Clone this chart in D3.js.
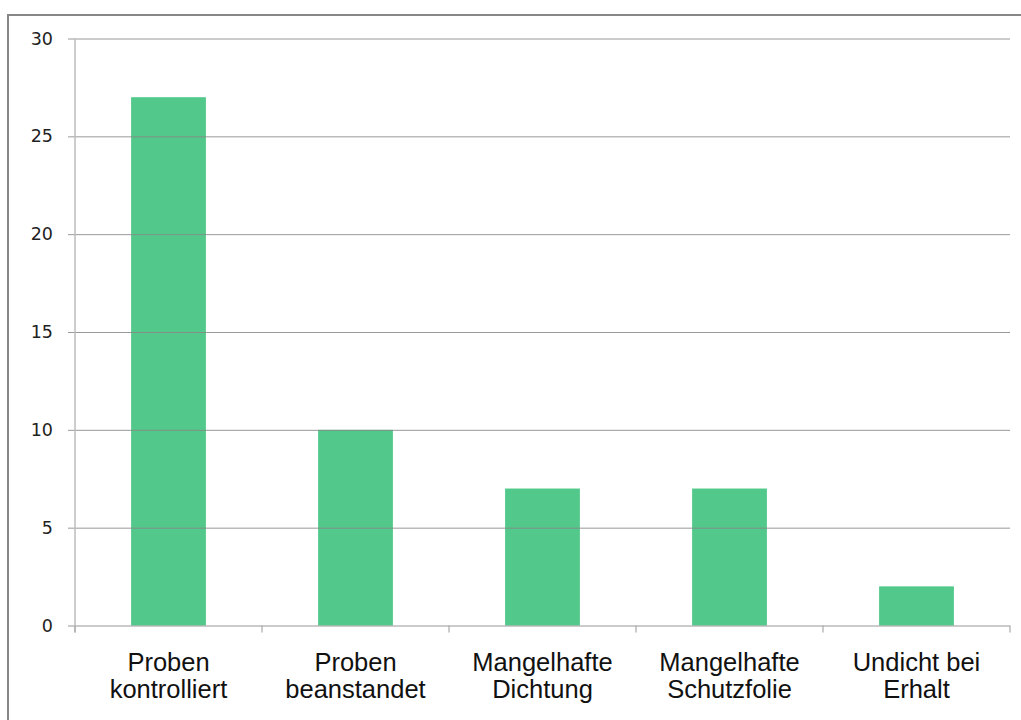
<!DOCTYPE html>
<html>
<head>
<meta charset="utf-8">
<script src="https://cdn.jsdelivr.net/npm/d3@7"></script>
<style>
  html, body { margin: 0; padding: 0; background: #fff; }
  svg { display: block; }
</style>
</head>
<body>
<svg id="chart" width="1021" height="720"></svg>
<script>
// Categories (two-line labels) and counts
const categories = [
  ["Proben", "kontrolliert"],
  ["Proben", "beanstandet"],
  ["Mangelhafte", "Dichtung"],
  ["Mangelhafte", "Schutzfolie"],
  ["Undicht bei", "Erhalt"]
];
const values = [27, 10, 7, 7, 2];
const yTicks = [0, 5, 10, 15, 20, 25, 30];

const svg = d3.select("#chart");
const W = 1021, H = 720;
const plot = { left: 75, right: 1010, top: 38.5, bottom: 625.5 };

// outer frame of the chart area
svg.append("path")
  .attr("d", `M8,${H} L8,15 L${W},15`)
  .attr("fill", "none")
  .attr("stroke", "#878787")
  .attr("stroke-width", 2);

const x = d3.scaleBand()
  .domain(categories.map((d, i) => i))
  .range([plot.left, plot.right])
  .paddingInner(0.6)
  .paddingOuter(0.3);

const xBand = d3.scaleBand()
  .domain(categories.map((d, i) => i))
  .range([plot.left, plot.right]);

const y = d3.scaleLinear().domain([0, 30]).range([plot.bottom, plot.top]);

// horizontal gridlines with left tick stubs
const yAxis = d3.axisLeft(y)
  .tickValues(yTicks)
  .tickSize(-(plot.right - plot.left))
  .tickSizeOuter(0)
  .tickPadding(22)
  .tickFormat(d3.format("d"));

// bars
svg.append("g").selectAll("rect")
  .data(values)
  .join("rect")
  .attr("x", (d, i) => x(i))
  .attr("width", x.bandwidth())
  .attr("y", d => y(d))
  .attr("height", d => y(0) - y(d))
  .attr("fill", "#52C98A");

const gy = svg.append("g")
  .attr("transform", `translate(${plot.left},0)`)
  .call(yAxis);
gy.select(".domain").remove();
gy.selectAll(".tick line")
  .attr("x1", -7)
  .attr("stroke", "#878787")
  .attr("stroke-opacity", 0.85)
  .attr("stroke-width", 1);
gy.selectAll(".tick text")
  .attr("font-family", "'DejaVu Sans', sans-serif")
  .attr("font-size", 17.5)
  .attr("fill", "#222");

// vertical axis line
svg.append("line")
  .attr("x1", plot.left).attr("x2", plot.left)
  .attr("y1", plot.top).attr("y2", plot.bottom + 7)
  .attr("stroke", "#bdbdbd")
  .attr("stroke-width", 1.5);

// category separator ticks below the baseline
svg.append("g").selectAll("line")
  .data(d3.range(categories.length + 1))
  .join("line")
  .attr("x1", i => i < categories.length ? xBand(i) : plot.right)
  .attr("x2", i => i < categories.length ? xBand(i) : plot.right)
  .attr("y1", plot.bottom)
  .attr("y2", plot.bottom + 7)
  .attr("stroke", "#a8a8a8")
  .attr("stroke-width", 1.2);

// category labels
const labels = svg.append("g").selectAll("text")
  .data(categories)
  .join("text")
  .attr("x", (d, i) => xBand(i) + xBand.bandwidth() / 2)
  .attr("y", 670.5)
  .attr("text-anchor", "middle")
  .attr("font-family", "'Liberation Sans', Arial, sans-serif")
  .attr("font-size", 25.5)
  .attr("fill", "#111");
labels.each(function(d) {
  const t = d3.select(this);
  d.forEach((line, k) => {
    t.append("tspan")
      .attr("x", t.attr("x"))
      .attr("dy", k === 0 ? 0 : 27)
      .text(line);
  });
});
</script>
</body>
</html>
